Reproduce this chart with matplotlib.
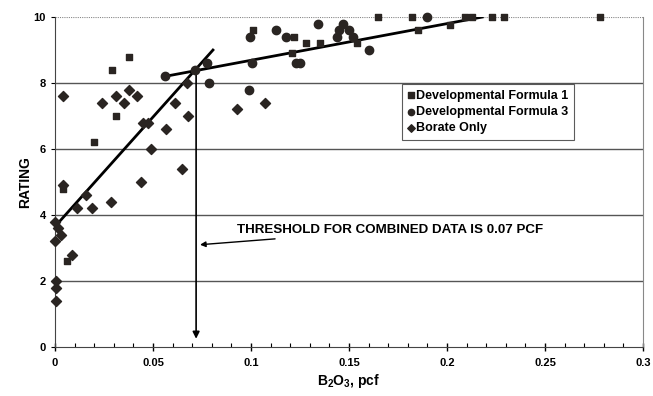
import matplotlib
matplotlib.use("Agg")
import numpy as np
from matplotlib import pyplot as plt
from matplotlib.ticker import MultipleLocator

plt.rcParams['font.family'] = 'Liberation Sans'
plt.rcParams['font.weight'] = 'bold'
plt.rcParams['mathtext.fontset'] = 'custom'
plt.rcParams['mathtext.bf'] = 'Liberation Sans:bold'
plt.rcParams['mathtext.rm'] = 'Liberation Sans:bold'

# Developmental Formula 1 (squares)
f1_x = [0.029, 0.038, 0.031, 0.020, 0.006, 0.004, 0.101, 0.122, 0.128, 0.135,
        0.154, 0.121, 0.185, 0.2015, 0.165, 0.182, 0.209, 0.213, 0.223, 0.229, 0.278]
f1_y = [8.4, 8.8, 7.0, 6.2, 2.6, 4.8, 9.6, 9.4, 9.2, 9.2,
        9.2, 8.9, 9.6, 9.76, 10, 10, 10, 10, 10, 10, 10]

# Developmental Formula 3 (circles)
f3_x = [0.056, 0.0714, 0.0776, 0.0786, 0.0995, 0.113, 0.118, 0.1005, 0.099, 0.134,
        0.144, 0.145, 0.147, 0.150, 0.152, 0.160, 0.123, 0.125, 0.19]
f3_y = [8.2, 8.4, 8.6, 8.0, 9.4, 9.6, 9.4, 8.6, 7.8, 9.8,
        9.4, 9.6, 9.8, 9.6, 9.4, 9.0, 8.6, 8.6, 10]

# Borate only (diamonds)
bor_x = [0.004, 0.024, 0.031, 0.035, 0.038, 0.042, 0.045, 0.0475, 0.0566, 0.049,
         0.004, 0.044, 0.016, 0.0285, 0.011, 0.019, 0.0, 0.0015, 0.003, 0.0,
         0.0087, 0.0005, 0.0005, 0.0005, 0.093, 0.061, 0.068, 0.065, 0.0675, 0.107]
bor_y = [7.6, 7.4, 7.6, 7.4, 7.8, 7.6, 6.8, 6.8, 6.6, 6.0,
         4.9, 5.0, 4.6, 4.4, 4.2, 4.2, 3.8, 3.6, 3.4, 3.2,
         2.8, 2.0, 1.8, 1.4, 7.2, 7.4, 7.0, 5.4, 8.0, 7.4]

# fitted trend lines (end points)
steep_x = [0.0, 0.0806]
steep_y = [3.65, 9.0]
flat_x = [0.056, 0.218]
flat_y = [8.2, 10.0]
threshold_x = 0.072
threshold_y = 8.4

mark_col = '#2a2522'

fig = plt.figure(figsize=(6.53, 3.96), dpi=100)
ax = fig.add_axes([0.0842, 0.1237, 0.9005, 0.8333])

for yy in [2, 4, 6, 8]:
    ax.axhline(yy, color='#555555', lw=1.0, zorder=1)
ax.axhline(10, color='#888888', lw=0.8, ls=(0, (1, 1)), zorder=1)

ax.plot(steep_x, steep_y, color='black', lw=2, zorder=3)
ax.plot(flat_x, flat_y, color='black', lw=2, zorder=3)

ax.scatter(f1_x, f1_y, marker='s', s=24, color=mark_col, zorder=4, clip_on=False,
           label='Developmental Formula 1')
ax.scatter(f3_x, f3_y, marker='o', s=36, color=mark_col, zorder=4, clip_on=False,
           label='Developmental Formula 3')
ax.scatter(bor_x, bor_y, marker='D', s=26, color=mark_col, zorder=4, clip_on=False,
           label='Borate Only')

# threshold arrow down to the x axis
ax.annotate('', xy=(threshold_x, 0.25), xytext=(threshold_x, threshold_y),
            arrowprops=dict(arrowstyle='-|>', color='black', lw=1.2,
                            mutation_scale=10, shrinkA=0, shrinkB=0), zorder=3)
ax.annotate('THRESHOLD FOR COMBINED DATA IS 0.07 PCF', xy=(0.074, 3.1),
            xytext=(0.093, 3.55), fontsize=9.6, fontweight='bold', va='center',
            arrowprops=dict(arrowstyle='-|>', color='black', lw=1.0,
                            mutation_scale=8, shrinkA=2, shrinkB=0))

ax.set_xlim(0, 0.3)
ax.set_ylim(0, 10)
ax.set_xticks([0, 0.05, 0.1, 0.15, 0.2, 0.25, 0.3])
ax.set_xticklabels(['0', '0.05', '0.1', '0.15', '0.2', '0.25', '0.3'])
ax.set_yticks([0, 2, 4, 6, 8, 10])
ax.xaxis.set_minor_locator(MultipleLocator(0.01))
ax.tick_params(axis='x', which='major', direction='inout', length=6, labelsize=8,
               width=1, pad=5)
ax.tick_params(axis='x', which='minor', direction='in', length=3, width=0.8)
ax.tick_params(axis='y', which='major', direction='out', length=3, labelsize=8)

ax.spines['top'].set_visible(False)
ax.spines['right'].set_color('#888888')
ax.spines['right'].set_linestyle((0, (1, 1)))
ax.spines['right'].set_linewidth(0.8)
ax.spines['left'].set_color('#444444')
ax.spines['bottom'].set_color('#444444')

ax.set_xlabel(r'$\mathbf{B_2O_3}$, pcf', fontsize=10, fontweight='bold', labelpad=3)
ax.set_ylabel('RATING', fontsize=10, fontweight='bold', labelpad=1)

leg = ax.legend(loc='upper left', bbox_to_anchor=(0.59, 0.797), fontsize=9,
                frameon=True, fancybox=False, edgecolor='#333333',
                handlelength=0.5, handletextpad=0.15, borderpad=0.45,
                labelspacing=0.35, borderaxespad=0, markerscale=0.75)
leg.get_frame().set_linewidth(0.8)

fig.savefig('out.png', dpi=100)
